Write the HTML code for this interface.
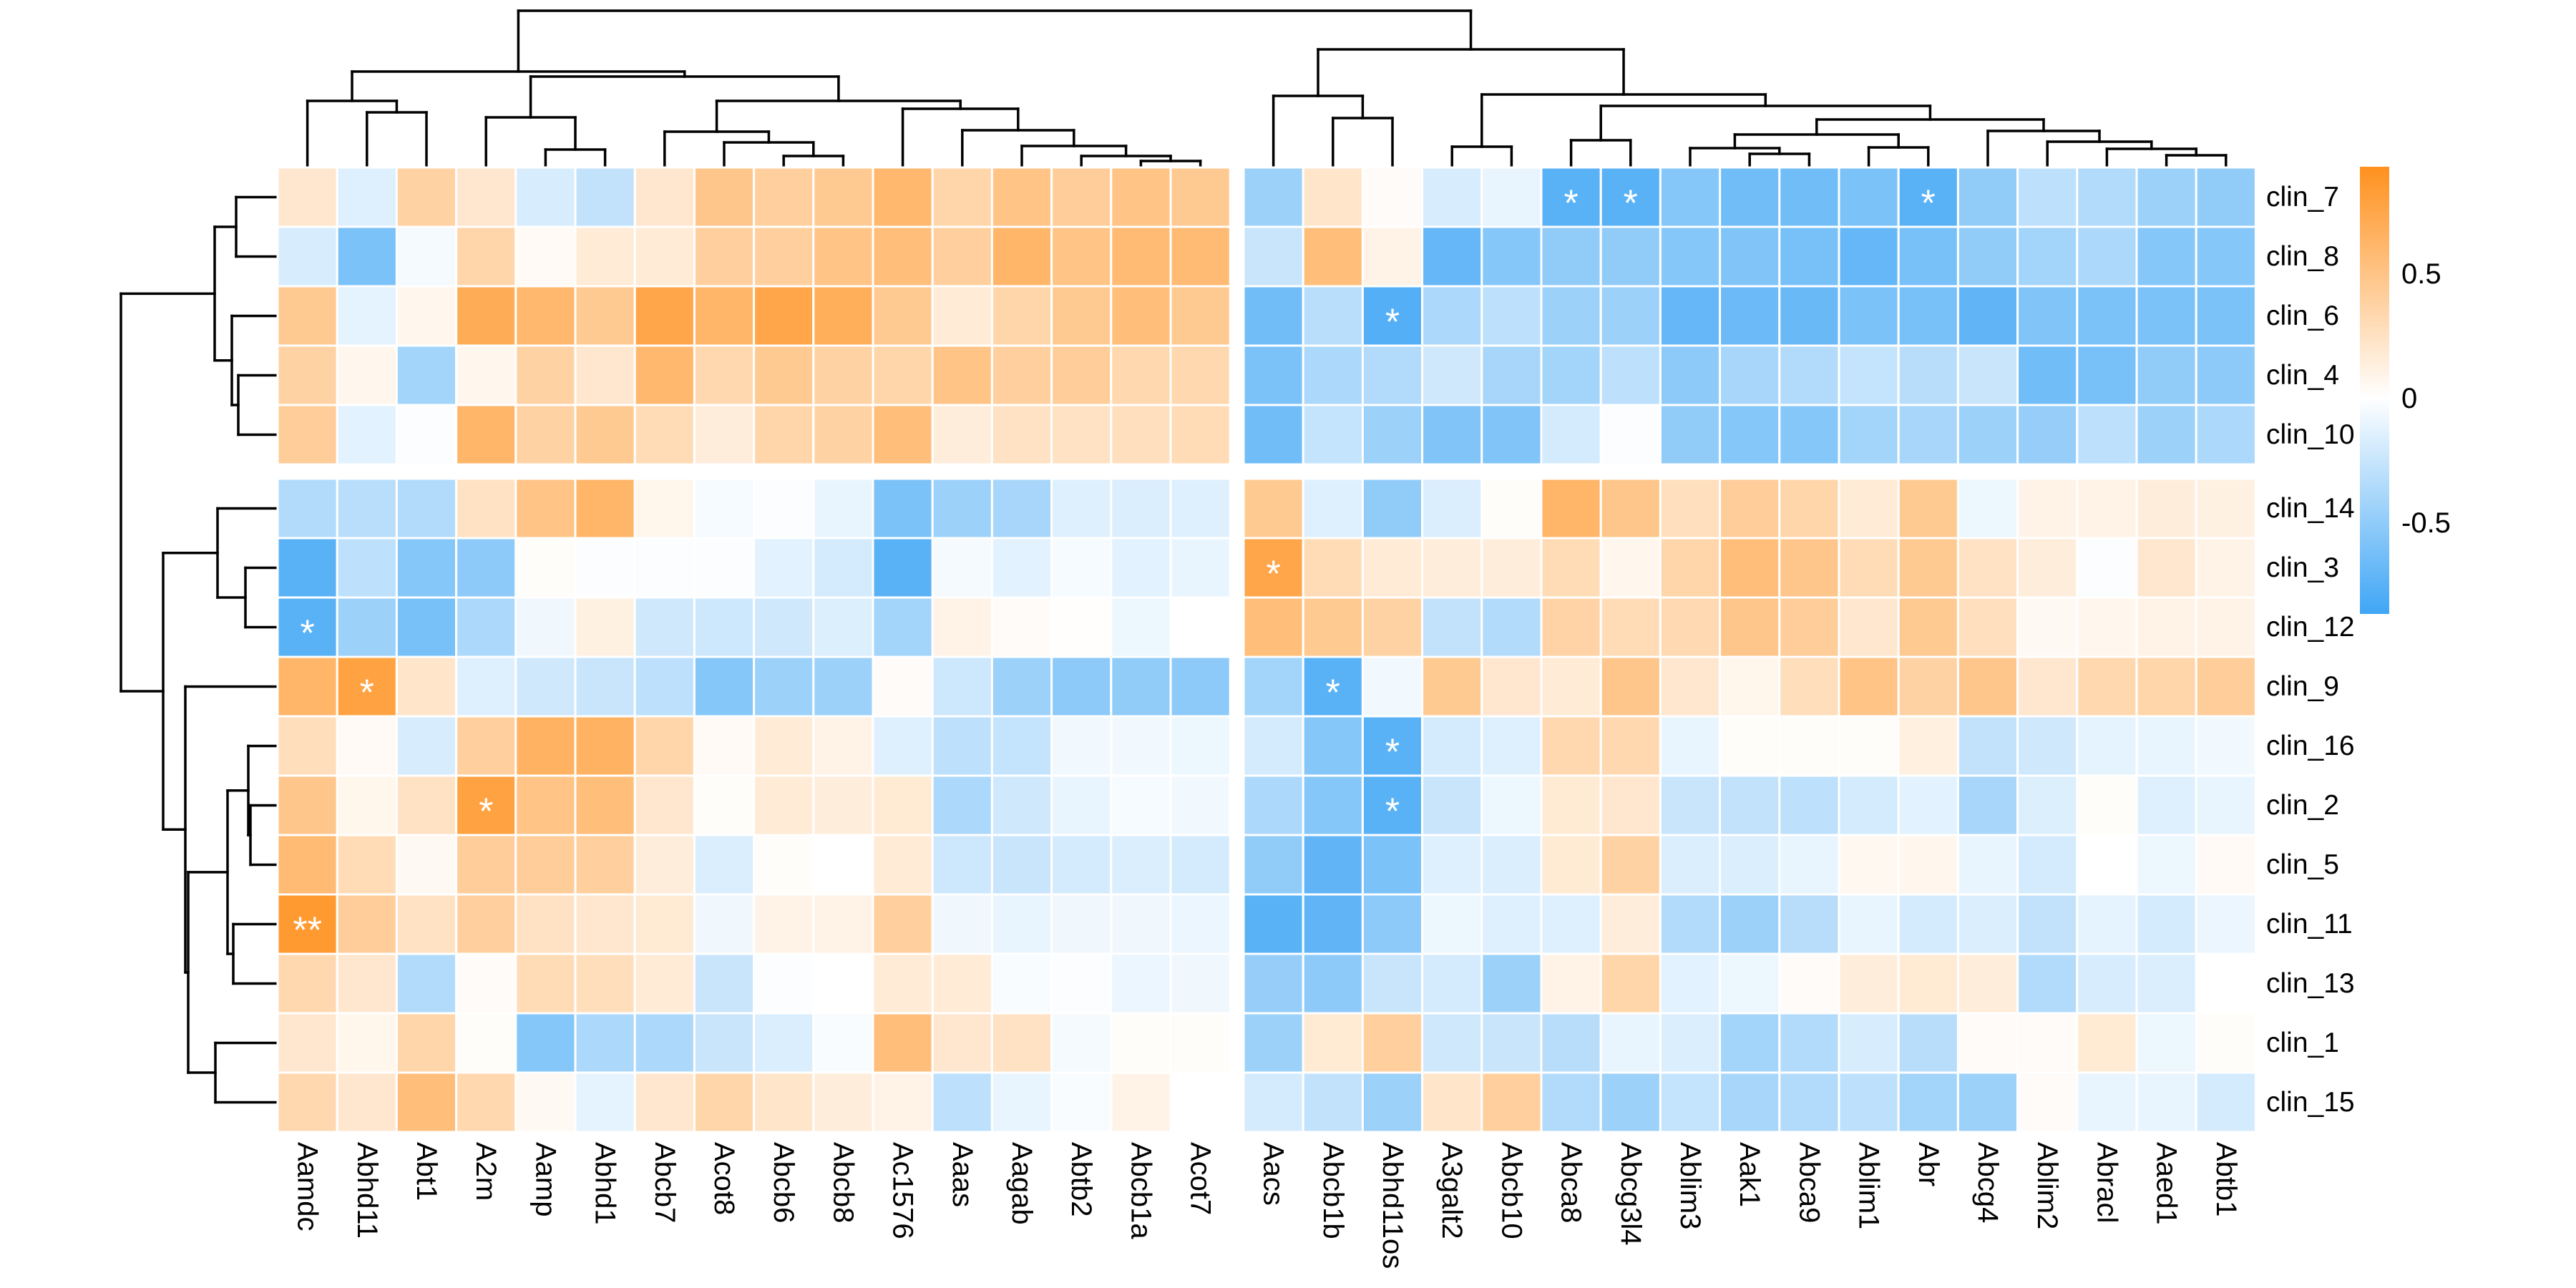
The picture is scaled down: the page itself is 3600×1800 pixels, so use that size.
<!DOCTYPE html>
<html><head><meta charset="utf-8"><style>html,body{margin:0;padding:0;background:#fff}svg{display:block}text{font-family:"Liberation Sans",sans-serif}</style></head>
<body>
<svg id="chart" width="3600" height="1800" viewBox="0 0 3600 1800" xmlns="http://www.w3.org/2000/svg">
<defs><linearGradient id="cbg" x1="0" y1="0" x2="0" y2="1">
<stop offset="0" stop-color="rgb(255,145,30)"/><stop offset="0.517" stop-color="#ffffff"/><stop offset="1" stop-color="rgb(64,166,245)"/></linearGradient></defs>
<g id="dendro"></g>
<g id="cells"></g>
<g id="labels"></g>
<g id="legend"></g>
</svg>
<script>
const rowNames=["clin_7","clin_8","clin_6","clin_4","clin_10","clin_14","clin_3","clin_12","clin_9","clin_16","clin_2","clin_5","clin_11","clin_13","clin_1","clin_15"];
const colNames=["Aamdc","Abhd11","Abt1","A2m","Aamp","Abhd1","Abcb7","Acot8","Abcb6","Abcb8","Ac1576","Aaas","Aagab","Abtb2","Abcb1a","Acot7","Aacs","Abcb1b","Abhd11os","A3galt2","Abcb10","Abca8","Abcg3l4","Ablim3","Aak1","Abca9","Ablim1","Abr","Abcg4","Ablim2","Abracl","Aaed1","Abtb1"];
const valuesLeft=[
[.2,-.15,.38,.2,-.18,-.28,.2,.48,.4,.45,.6,.35,.5,.42,.5,.45],
[-.18,-.6,-.05,.35,.04,.17,.17,.4,.4,.5,.55,.4,.62,.5,.58,.58],
[.45,-.12,.07,.7,.6,.45,.75,.62,.75,.68,.45,.17,.35,.45,.55,.45],
[.38,.07,-.42,.07,.38,.2,.6,.33,.45,.38,.35,.5,.4,.42,.33,.33],
[.42,-.13,-.02,.62,.38,.45,.3,.15,.35,.38,.55,.15,.25,.25,.27,.3],
[-.35,-.32,-.35,.25,.5,.62,.08,-.04,-.02,-.1,-.6,-.45,-.4,-.15,-.17,-.15],
[-.75,-.3,-.55,-.52,.02,-.02,-.02,-.02,-.13,-.2,-.75,-.05,-.13,-.04,-.13,-.1],
[-.75,-.45,-.62,-.38,-.07,.12,-.22,-.23,-.22,-.16,-.42,.1,.03,.01,-.08,0],
[.62,.78,.22,-.15,-.22,-.25,-.3,-.55,-.45,-.45,.03,-.23,-.45,-.52,-.5,-.52],
[.28,.04,-.18,.4,.65,.65,.35,.04,.17,.1,-.15,-.3,-.27,-.06,-.06,-.08],
[.48,.08,.25,.78,.5,.55,.2,.02,.17,.15,.18,-.38,-.22,-.1,-.04,-.06],
[.58,.3,.05,.42,.42,.4,.15,-.17,.02,0,.17,-.23,-.25,-.2,-.17,-.2],
[.85,.42,.25,.4,.25,.2,.18,-.07,.1,.1,.4,-.07,-.1,-.07,-.07,-.09],
[.33,.2,-.35,.03,.3,.28,.17,-.25,-.02,0,.17,.17,-.03,-.02,-.09,-.07],
[.2,.08,.35,.02,-.55,-.38,-.38,-.25,-.17,-.03,.55,.2,.25,-.05,.02,.02],
[.33,.2,.55,.33,.05,-.12,.2,.35,.22,.15,.1,-.3,-.1,-.03,.1,0]];
const valuesRight=[
[-.45,.22,.03,-.18,-.1,-.75,-.75,-.55,-.65,-.65,-.6,-.75,-.5,-.3,-.35,-.45,-.5],
[-.25,.55,.1,-.7,-.55,-.5,-.5,-.55,-.58,-.62,-.7,-.62,-.5,-.42,-.38,-.55,-.55],
[-.65,-.32,-.78,-.38,-.3,-.45,-.45,-.7,-.67,-.68,-.6,-.62,-.72,-.58,-.6,-.6,-.6],
[-.6,-.38,-.35,-.22,-.4,-.42,-.3,-.52,-.4,-.35,-.27,-.33,-.25,-.65,-.62,-.5,-.52],
[-.65,-.27,-.45,-.58,-.58,-.2,-.02,-.5,-.55,-.55,-.42,-.4,-.45,-.48,-.3,-.45,-.38],
[.45,-.15,-.5,-.17,.02,.62,.48,.27,.42,.35,.17,.45,-.08,.1,.1,.15,.12],
[.75,.3,.17,.15,.15,.3,.07,.35,.55,.48,.3,.45,.25,.15,-.02,.2,.1],
[.55,.45,.38,-.28,-.35,.37,.3,.32,.48,.42,.2,.45,.27,.05,.07,.1,.1],
[-.42,-.75,-.06,.45,.2,.17,.48,.2,.08,.28,.5,.38,.48,.2,.33,.35,.42],
[-.2,-.55,-.75,-.2,-.15,.33,.33,-.1,.02,.02,.02,.13,-.28,-.22,-.12,-.1,-.06],
[-.38,-.55,-.75,-.25,-.08,.18,.2,-.25,-.28,-.3,-.2,-.13,-.4,-.16,.02,-.15,-.1],
[-.5,-.72,-.6,-.15,-.17,.18,.38,-.17,-.17,-.1,.06,.07,-.1,-.2,0,-.08,.04],
[-.75,-.72,-.52,-.08,-.15,-.15,.15,-.35,-.45,-.33,-.1,-.2,-.17,-.28,-.12,-.2,-.09],
[-.48,-.52,-.25,-.2,-.45,.1,.35,-.13,-.08,.03,.15,.18,.15,-.35,-.18,-.17,0],
[-.45,.18,.4,-.22,-.25,-.33,-.1,-.17,-.42,-.35,-.18,-.33,.03,.03,.18,-.08,.02],
[-.2,-.28,-.45,.22,.4,-.35,-.45,-.27,-.4,-.35,-.3,-.42,-.45,.03,-.1,-.1,-.2]];
const stars=[[0,21,"*"],[0,22,"*"],[0,27,"*"],[2,18,"*"],[6,16,"*"],[7,0,"*"],[8,1,"*"],[8,17,"*"],[9,18,"*"],[10,3,"*"],[10,18,"*"],[12,0,"**"]];
const legendTicks=[0.5,0,-0.5];
const legendTickLabels=["0.5","0","-0.5"];
const colTree=[[[0,[1,2,157],141],[[3,[4,5,209],164],[[6,[7,[8,9,218],199],184],[10,[11,[12,[13,[14,15,225],218],204],182],152],141],107],100],
 [[16,[17,18,165],134],[[19,20,205],[[21,22,196],[[[23,[24,25,215],207],[26,27,206],188],[28,[29,[30,[31,32,217],208],198],183],167],148],132],69],15];
const rowTree=[[[0,1,330],[2,[3,4,333],324],300],[[5,[6,7,343],304],[8,[[[9,[10,11,350],347],[12,13,326],318],[14,15,301],263],259],228],169];

const NS="http://www.w3.org/2000/svg";
function mk(tag,attrs,parent){const e=document.createElementNS(NS,tag);for(const k in attrs)e.setAttribute(k,attrs[k]);parent.appendChild(e);return e;}
const CW=83.2,RH=83;
function colX(j){return j<16?388+j*CW:1738+(j-16)*CW;}
function rowY(i){return i<5?234+i*RH:669+(i-5)*RH;}
function color(v){
  let c,t;
  if(v>=0){t=Math.min(v/0.93,1);c=[255,145,30];}else{t=Math.min(-v/0.87,1);c=[64,166,245];}
  const r=Math.round(255+(c[0]-255)*t),g=Math.round(255+(c[1]-255)*t),b=Math.round(255+(c[2]-255)*t);
  return `rgb(${r},${g},${b})`;
}
const cells=document.getElementById('cells');
for(let i=0;i<16;i++){for(let j=0;j<33;j++){
  const v=j<16?valuesLeft[i][j]:valuesRight[i][j-16];
  const r=mk('rect',{x:colX(j),y:rowY(i),width:CW,height:RH,fill:color(v),stroke:'#fff','stroke-width':3},cells);
  
  
}}
for(const s of stars){
  const t=mk('text',{x:colX(s[1])+CW/2,y:rowY(s[0])+RH/2+26,'text-anchor':'middle','font-size':52,fill:'#fff'},cells);
  t.textContent=s[2];
  
  
}
const labels=document.getElementById('labels');
rowNames.forEach((n,i)=>{
  const t=mk('text',{x:3167,y:rowY(i)+RH/2,'dominant-baseline':'central','font-size':39},labels);
  t.textContent=n;
  
  
});
colNames.forEach((n,j)=>{
  const cx=colX(j)+CW/2;
  const t=mk('text',{x:cx,y:1596,'dominant-baseline':'central','font-size':40,transform:`rotate(90 ${cx} 1596)`},labels);
  t.textContent=n;
  
  
});
const dg=document.getElementById('dendro');
function line(x1,y1,x2,y2){const l=mk('line',{x1,y1,x2,y2,stroke:'#000','stroke-width':3.5,'stroke-linecap':'square'},dg);
  
  }
function drawCol(n){
  if(typeof n==='number')return [colX(n)+CW/2,231];
  const a=drawCol(n[0]),b=drawCol(n[1]),h=n[2];
  line(a[0],a[1],a[0],h);line(b[0],b[1],b[0],h);line(a[0],h,b[0],h);
  return [(a[0]+b[0])/2,h];
}
function drawRow(n){
  if(typeof n==='number')return [385,rowY(n)+RH/2];
  const a=drawRow(n[0]),b=drawRow(n[1]),h=n[2];
  line(a[0],a[1],h,a[1]);line(b[0],b[1],h,b[1]);line(h,a[1],h,b[1]);
  return [h,(a[1]+b[1])/2];
}
drawCol(colTree);drawRow(rowTree);
const lg=document.getElementById('legend');
const cb=mk('rect',{x:3298,y:233,width:41,height:625,fill:'url(#cbg)'},lg);


function legY(v){return 557-v*348;}
legendTicks.forEach((v,k)=>{
  const t=mk('text',{x:3356,y:legY(v),'dominant-baseline':'central','font-size':40},lg);
  t.textContent=legendTickLabels[k];
  
  
});
</script>
</body></html>
